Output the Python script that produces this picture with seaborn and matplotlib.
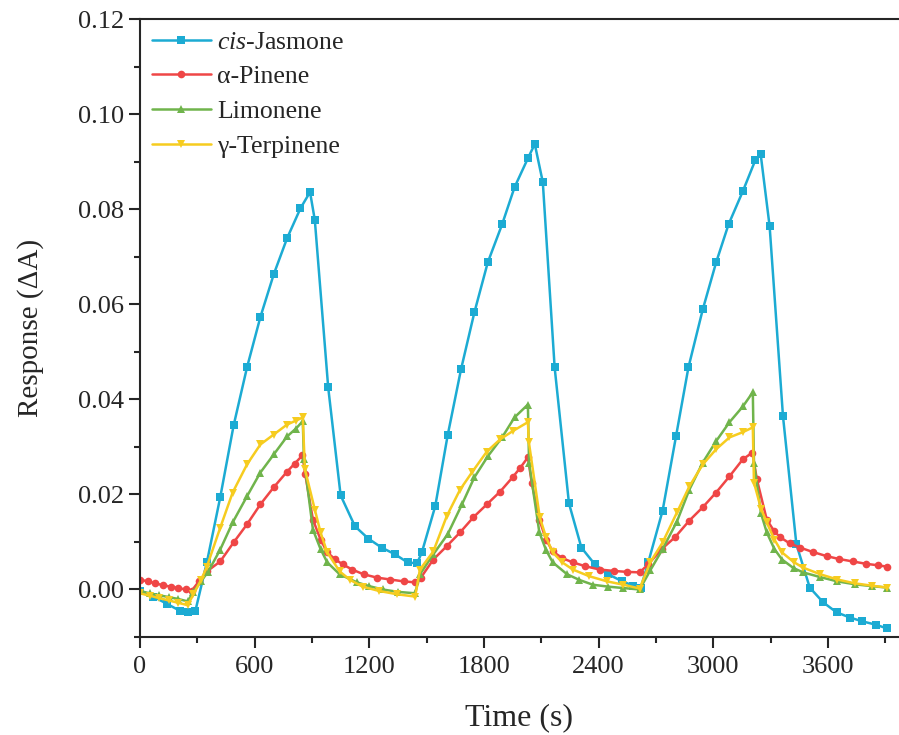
import matplotlib
matplotlib.use("Agg")
import matplotlib.pyplot as plt
from matplotlib.ticker import MultipleLocator, FormatStrFormatter
import numpy as np
import pandas as pd
import seaborn as sns

# values
jas_t = [0, 70, 140, 210, 250, 290, 350, 420, 490, 560, 630, 700, 770, 840, 890, 915, 985,
         1050, 1125, 1195, 1265, 1335, 1400, 1450, 1475, 1545, 1610, 1680, 1750, 1820, 1895,
         1960, 2030, 2066, 2108, 2170, 2245, 2310, 2380, 2450, 2520, 2580, 2620, 2660, 2735,
         2805, 2870, 2945, 3015, 3080, 3155, 3220, 3248, 3295, 3365, 3435, 3505, 3575, 3645,
         3715, 3780, 3850, 3910]
jas_y = [-0.0004, -0.0015, -0.003, -0.0045, -0.0048, -0.0045, 0.0057, 0.0194, 0.0345, 0.0467,
         0.0573, 0.0663, 0.0739, 0.0802, 0.0836, 0.0777, 0.0425, 0.0198, 0.0133, 0.0107, 0.0088,
         0.0074, 0.0057, 0.0055, 0.0078, 0.0175, 0.0324, 0.0463, 0.0583, 0.0688, 0.0768, 0.0846,
         0.0907, 0.0937, 0.0857, 0.0467, 0.0181, 0.0088, 0.0053, 0.0032, 0.0018, 0.0008, 0.0003,
         0.0057, 0.0166, 0.0322, 0.0467, 0.0589, 0.0688, 0.0768, 0.0838, 0.0903, 0.0916, 0.0764,
         0.0364, 0.0095, 0.0004, -0.0027, -0.0048, -0.0059, -0.0067, -0.0074, -0.0082]

pin_t = [0, 40, 80, 120, 160, 200, 240, 270, 310, 350, 420, 490, 560, 630, 700, 770, 810, 850,
         865, 905, 945, 980, 1020, 1060, 1110, 1170, 1240, 1310, 1380, 1440, 1470, 1535, 1605,
         1675, 1745, 1815, 1885, 1950, 1990, 2030, 2050, 2090, 2125, 2160, 2210, 2265, 2330,
         2405, 2480, 2550, 2615, 2660, 2730, 2800, 2875, 2945, 3015, 3085, 3155, 3205, 3228,
         3280, 3320, 3350, 3400, 3455, 3520, 3595, 3660, 3730, 3800, 3860, 3910]
pin_y = [0.0021, 0.0017, 0.0013, 0.0009, 0.0006, 0.0003, 0.0, -0.0003, 0.0018, 0.0038, 0.0059,
         0.0099, 0.0137, 0.0179, 0.0215, 0.0248, 0.0265, 0.0282, 0.0242, 0.0147, 0.0105, 0.0078,
         0.0064, 0.0053, 0.0042, 0.0032, 0.0025, 0.0021, 0.0017, 0.0015, 0.0025, 0.0063, 0.0091,
         0.012, 0.0152, 0.0179, 0.0206, 0.0236, 0.0256, 0.0278, 0.0225, 0.0147, 0.0105, 0.008,
         0.0066, 0.0057, 0.0049, 0.0042, 0.0039, 0.0037, 0.0036, 0.0053, 0.0085, 0.011, 0.0145,
         0.0173, 0.0204, 0.0238, 0.0274, 0.0288, 0.0232, 0.0147, 0.0122, 0.011, 0.0097, 0.0088,
         0.0079, 0.007, 0.0064, 0.0059, 0.0054, 0.0051, 0.0048]

lim_t = [0, 50, 100, 150, 200, 250, 280, 320, 355, 420, 485, 560, 630, 700, 770, 815, 852, 858,
         905, 945, 980, 1045, 1135, 1200, 1270, 1350, 1440, 1465, 1535, 1610, 1685, 1750, 1820,
         1895, 1960, 2030, 2036, 2090, 2125, 2160, 2235, 2300, 2370, 2450, 2530, 2615, 2670,
         2735, 2810, 2875, 2945, 3015, 3085, 3155, 3207, 3213, 3250, 3280, 3320, 3360, 3420,
         3470, 3560, 3650, 3740, 3830, 3910]
lim_y = [-0.0003, -0.0008, -0.0012, -0.0016, -0.002, -0.0025, -0.0005, 0.0018, 0.0036, 0.0084,
         0.0141, 0.0196, 0.0246, 0.0284, 0.0322, 0.0338, 0.0354, 0.0274, 0.0126, 0.0085, 0.0057,
         0.0032, 0.0015, 0.0007, 0.0, -0.0005, -0.0008, 0.0032, 0.0074, 0.0116, 0.0179, 0.0236,
         0.028, 0.032, 0.0362, 0.0389, 0.0267, 0.012, 0.0083, 0.0057, 0.0032, 0.002, 0.001,
         0.0006, 0.0003, 0.0, 0.004, 0.0085, 0.0143, 0.021, 0.0267, 0.0312, 0.0352, 0.0385,
         0.0415, 0.0267, 0.016, 0.012, 0.0085, 0.0063, 0.0045, 0.0036, 0.0026, 0.0017, 0.0011,
         0.0007, 0.0004]

ter_t = [0, 50, 100, 150, 200, 250, 280, 320, 350, 420, 485, 560, 630, 700, 770, 815, 852, 863,
         915, 945, 980, 1045, 1100, 1165, 1250, 1345, 1440, 1465, 1535, 1605, 1675, 1740, 1815,
         1885, 1950, 2030, 2035, 2092, 2125, 2160, 2210, 2265, 2350, 2445, 2530, 2615, 2670,
         2735, 2810, 2875, 2945, 3015, 3085, 3155, 3207, 3213, 3250, 3280, 3320, 3360, 3420,
         3470, 3560, 3650, 3740, 3830, 3910]
ter_y = [-0.0008, -0.0013, -0.0018, -0.0023, -0.0028, -0.0033, -0.001, 0.002, 0.0048, 0.013,
         0.0204, 0.0263, 0.0305, 0.0326, 0.0347, 0.0355, 0.0362, 0.0253, 0.0168, 0.012, 0.0078,
         0.0038, 0.002, 0.0006, -0.0003, -0.001, -0.0015, 0.0042, 0.008, 0.0154, 0.021, 0.0248,
         0.029, 0.0316, 0.0333, 0.0352, 0.031, 0.0152, 0.011, 0.0078, 0.0057, 0.0042, 0.0028,
         0.0017, 0.001, 0.0002, 0.0057, 0.0099, 0.0162, 0.0217, 0.0263, 0.0295, 0.032, 0.0331,
         0.0341, 0.0225, 0.017, 0.0141, 0.0105, 0.0078, 0.0058, 0.0046, 0.0032, 0.0021, 0.0013,
         0.0008, 0.0004]

names = ["cis-Jasmone", "α-Pinene", "Limonene", "γ-Terpinene"]
legend_labels = [r"$\mathit{cis}$-Jasmone", "α-Pinene", "Limonene", "γ-Terpinene"]

df = pd.concat([
    pd.DataFrame({"t": t, "resp": y, "gas": n})
    for n, t, y in zip(names, [jas_t, pin_t, lim_t, ter_t], [jas_y, pin_y, lim_y, ter_y])
], ignore_index=True)

palette = {"cis-Jasmone": "#1cabd3", "α-Pinene": "#ef4646",
           "Limonene": "#70b44c", "γ-Terpinene": "#f6cc1f"}
markers = {"cis-Jasmone": "s", "α-Pinene": "o", "Limonene": "^", "γ-Terpinene": "v"}

sns.set_style("ticks")
plt.rcParams["font.family"] = ["Liberation Serif", "DejaVu Serif"]
plt.rcParams["mathtext.fontset"] = "custom"
plt.rcParams["mathtext.it"] = "Liberation Serif:italic"
plt.rcParams["mathtext.rm"] = "Liberation Serif"

fig = plt.figure(figsize=(8.99, 7.35), dpi=100)
ax = fig.add_axes([0.1557, 0.1333, 0.8443, 0.8408])

sns.lineplot(data=df, x="t", y="resp", hue="gas", style="gas", hue_order=names,
             style_order=names, palette=palette, markers=markers, dashes=False,
             estimator=None, sort=False, linewidth=1.8, markersize=5.5,
             markeredgewidth=0, ax=ax)

ax.set_xlim(0, 3972)
ax.set_ylim(-0.01, 0.12)
ax.xaxis.set_major_locator(MultipleLocator(600))
ax.xaxis.set_minor_locator(MultipleLocator(300))
ax.yaxis.set_major_locator(MultipleLocator(0.02))
ax.yaxis.set_minor_locator(MultipleLocator(0.01))
ax.yaxis.set_major_formatter(FormatStrFormatter("%.2f"))
ax.tick_params(which="major", direction="out", length=8, width=1.5, labelsize=19)
ax.tick_params(axis="x", which="major", pad=6)
ax.tick_params(which="minor", direction="out", length=4.5, width=1.5)
ax.tick_params(top=False, right=False, which="both")
for s in ["left", "bottom", "top"]:
    ax.spines[s].set_linewidth(1.5)
ax.spines["right"].set_visible(False)

ax.set_xlabel("Time (s)", fontsize=23, labelpad=18)
ax.set_ylabel("Response (ΔA)", fontsize=21, labelpad=24)

handles, _ = ax.get_legend_handles_labels()
ax.legend(handles[-4:], legend_labels, loc="upper left", frameon=False, fontsize=18.5,
          handlelength=2.3, handletextpad=0.25, labelspacing=0.46,
          borderaxespad=0.2, borderpad=0.25, bbox_to_anchor=(0.0, 1.0))

fig.savefig("out.png", dpi=100)
